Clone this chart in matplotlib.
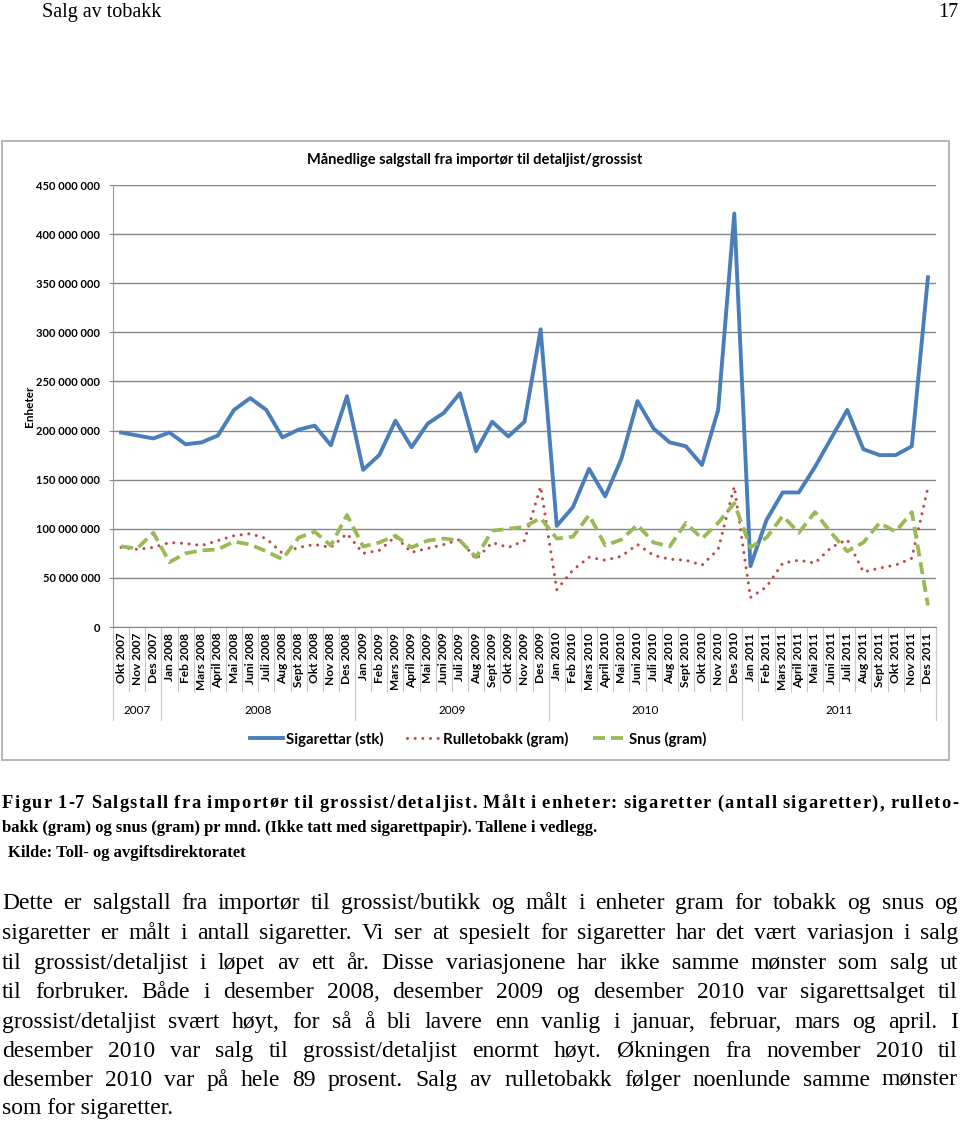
import numpy as np
import matplotlib
matplotlib.use('Agg')
import matplotlib.pyplot as plt
import matplotlib.transforms as mtransforms
from matplotlib.patches import Rectangle
from matplotlib.ticker import FuncFormatter

# månedlige salgstall, millioner enheter, Okt 2007 - Des 2011
month_names = ['Jan', 'Feb', 'Mars', 'April', 'Mai', 'Juni', 'Juli', 'Aug', 'Sept', 'Okt', 'Nov', 'Des']
years = [2007, 2008, 2009, 2010, 2011]
labels = ['Okt 2007', 'Nov 2007', 'Des 2007'] + [f'{m} {y}' for y in years[1:] for m in month_names]

sigaretter = [198, 195, 192, 198, 186, 188, 195, 221, 233, 221, 193, 201,
              205, 185, 235, 160, 175, 210, 183, 207, 218, 238, 179, 209,
              194, 209, 303, 103, 122, 161, 133, 171, 230, 202, 188, 184,
              165, 221, 421, 62, 109, 137, 137, 163, 192, 221, 181, 175,
              175, 184, 356]
rulletobakk = [81, 79, 81, 86, 85, 83, 88, 93, 95, 90, 75, 81,
               84, 81, 95, 75, 78, 92, 76, 80, 84, 89, 69, 86,
               81, 88, 143, 38, 58, 71, 68, 72, 84, 73, 69, 68,
               63, 79, 143, 30, 41, 65, 68, 65, 81, 89, 56, 60,
               63, 70, 142]
snus = [82, 80, 96, 66, 75, 78, 79, 87, 84, 77, 69, 91,
        97, 83, 114, 82, 86, 93, 81, 88, 90, 88, 71, 98,
        100, 102, 111, 90, 92, 114, 83, 89, 104, 86, 82, 106,
        90, 106, 126, 81, 91, 113, 96, 117, 96, 77, 86, 106,
        97, 117, 22]

W, H = 960, 1124
fig = plt.figure(figsize=(W / 100, H / 100), dpi=100)
chart_font = ['Lato', 'DejaVu Sans']
serif = ['Liberation Serif', 'DejaVu Serif']


def fx(px):
    return px / W


def fy(py):
    return 1 - py / H


# page header
fig.text(fx(42), fy(17), 'Salg av tobakk', family=serif, fontsize=14.5, va='baseline')
fig.text(fx(958), fy(17), '17', family=serif, fontsize=14.5, va='baseline', ha='right')

# chart frame
fig.patches.append(Rectangle((fx(2), fy(760)), fx(949) - fx(2), fy(141) - fy(760),
                             transform=fig.transFigure, fill=False, edgecolor='#b0b0b0', lw=1.3))
fig.text(fx(475), fy(160), 'Månedlige salgstall fra importør til detaljist/grossist',
         family=chart_font, fontsize=10.5, weight='bold', ha='center', va='center')

ax = fig.add_axes([fx(113), fy(627), fx(936) - fx(113), fy(185) - fy(627)])
x = np.arange(len(labels))
scale = 1e6
ax.plot(x, np.array(sigaretter) * scale, color='#4A7EBB', lw=2.8, solid_joinstyle='round', label='Sigarettar (stk)')
ax.plot(x, np.array(rulletobakk) * scale, color='#BE4B48', lw=2.2, linestyle=(0, (0.01, 2.5)),
        dash_capstyle='round', label='Rulletobakk (gram)')
ax.plot(x, np.array(snus) * scale, color='#98B954', lw=2.7, linestyle=(0, (3.2, 1.6)), label='Snus (gram)')

ax.set_xlim(-0.5, len(labels) - 0.5)
ax.set_ylim(0, 450e6)
ax.set_yticks(np.arange(0, 451e6, 50e6))
ax.yaxis.set_major_formatter(FuncFormatter(lambda v, p: f'{int(round(v)):,}'.replace(',', ' ')))
ax.grid(axis='y', color='#868686', lw=1)
ax.set_axisbelow(True)
for s in ['top', 'right']:
    ax.spines[s].set_visible(False)
ax.spines['left'].set_color('#9a9a9a')
ax.spines['bottom'].set_color('#868686')
ax.tick_params(axis='y', length=3, color='#868686', pad=6, labelsize=8)
for t in ax.get_yticklabels():
    t.set_family(chart_font)
    t.set_weight('bold')

ax.set_xticks(np.arange(-0.5, len(labels), 1))
ax.set_xticklabels([])
ax.tick_params(axis='x', which='major', length=47, color='#c8c8c8', width=0.8)
ax.set_xticks(x, minor=True)
ax.set_xticklabels(labels, minor=True, rotation=90, family=chart_font, weight='bold', fontsize=8.6)
ax.tick_params(axis='x', which='minor', length=0, pad=4)

ax.set_ylabel('Enheter', family=chart_font, weight='bold', fontsize=8.5, labelpad=1)

# year grouping row
trans = mtransforms.blended_transform_factory(ax.transData, ax.transAxes)
year_bounds = [-0.5, 2.5, 14.5, 26.5, 38.5, 50.5]
for b in year_bounds:
    ax.plot([b, b], [0, -93 / 442], transform=trans, color='#c8c8c8', lw=0.8, clip_on=False)
for y0, y1, yr in zip(year_bounds[:-1], year_bounds[1:], years):
    ax.text((y0 + y1) / 2, -84 / 442, str(yr), transform=trans, ha='center', va='center',
            family=chart_font, fontsize=8.5)

fig.legend(loc='center', bbox_to_anchor=(fx(478), fy(739)), ncol=3, frameon=False,
           prop={'family': chart_font, 'weight': 'bold', 'size': 10.8},
           handlelength=2.2, columnspacing=1.6, handletextpad=0.2)

# caption and body text
renderer = fig.canvas.get_renderer()


def width_of(s, size, weight):
    t = fig.text(0, 0, s, family=serif, fontsize=size, weight=weight)
    w = t.get_window_extent(renderer).width
    t.remove()
    return w


def justify(text, y, x0, x1, size, weight='normal'):
    words = text.split()
    objs = [fig.text(0, fy(y), w, family=serif, fontsize=size, weight=weight, va='baseline') for w in words]
    widths = [o.get_window_extent(renderer).width for o in objs]
    gap = (x1 - x0 - sum(widths)) / max(len(words) - 1, 1)
    pos = x0
    for o, w in zip(objs, widths):
        o.set_x(fx(pos))
        pos += w + gap


def justify_letters(text, y, x0, x1, size, weight='normal'):
    # spread the extra room over letters and word gaps alike
    words = text.split()
    space = width_of('a a', size, weight) - width_of('aa', size, weight)
    wordw = [width_of(w, size, weight) for w in words]
    nchar_gaps = sum(len(w) - 1 for w in words) + len(words) - 1
    ls = (x1 - x0 - sum(wordw) - (len(words) - 1) * space) / nchar_gaps
    pos = x0
    for w, ww in zip(words, wordw):
        for k, ch in enumerate(w):
            off = width_of(w[:k], size, weight) if k else 0
            fig.text(fx(pos + off + k * ls), fy(y), ch, family=serif, fontsize=size,
                     weight=weight, va='baseline')
        pos += ww + (len(w) - 1) * ls + space + ls


justify_letters('Figur 1-7 Salgstall fra importør til grossist/detaljist. Målt i enheter: sigaretter '
                '(antall sigaretter), rulleto-', 808, 2, 958, 13.2, 'bold')
fig.text(fx(2), fy(832), 'bakk (gram) og snus (gram) pr mnd. (Ikke tatt med sigarettpapir). Tallene i vedlegg.',
         family=serif, fontsize=12, weight='bold', va='baseline')
fig.text(fx(8), fy(857), 'Kilde: Toll- og avgiftsdirektoratet', family=serif, fontsize=12, weight='bold',
         va='baseline')

body = [
    ('Dette er salgstall fra importør til grossist/butikk og målt i enheter gram for tobakk og snus og', 909),
    ('sigaretter er målt i antall sigaretter. Vi ser at spesielt for sigaretter har det vært variasjon i salg', 939),
    ('til grossist/detaljist i løpet av ett år. Disse variasjonene har ikke samme mønster som salg ut', 969),
    ('til forbruker. Både i desember 2008, desember 2009 og desember 2010 var sigarettsalget til', 998),
    ('grossist/detaljist svært høyt, for så å bli lavere enn vanlig i januar, februar, mars og april. I', 1028),
    ('desember 2010 var salg til grossist/detaljist enormt høyt. Økningen fra november 2010 til', 1057),
    ('desember 2010 var på hele 89 prosent. Salg av rulletobakk følger noenlunde samme mønster', 1086),
]
for line, y in body:
    justify(line, y, 2, 958, 17)
fig.text(fx(2), fy(1114), 'som for sigaretter.', family=serif, fontsize=17, va='baseline')

fig.savefig('out.png', dpi=100)
